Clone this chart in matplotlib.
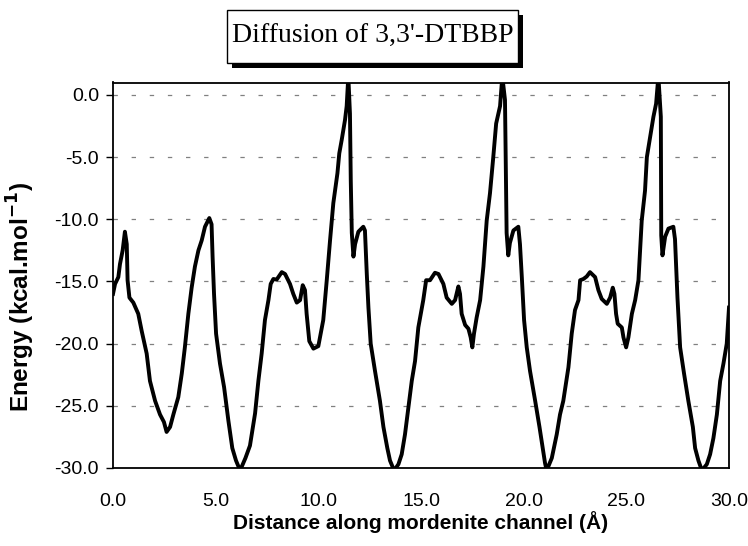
import matplotlib
matplotlib.use("Agg")
import matplotlib.pyplot as plt
from matplotlib.patches import Rectangle

distance = [0.0, 0.1, 0.26, 0.34, 0.47, 0.58, 0.67, 0.71, 0.8, 0.99, 1.23, 1.4, 1.64, 1.8, 2.05, 2.29, 2.48, 2.61,
            2.78, 2.94, 3.18, 3.35, 3.5, 3.67, 3.83, 3.99, 4.16, 4.32, 4.48, 4.69, 4.8, 4.85, 4.92, 5.02, 5.21, 5.41,
            5.62, 5.81, 5.99, 6.19, 6.45, 6.67, 6.92, 7.08, 7.24, 7.4, 7.57, 7.68, 7.81, 7.97, 8.22, 8.38, 8.62, 8.78,
            8.95, 9.11, 9.24, 9.35, 9.43, 9.56, 9.76, 10.0, 10.08, 10.24, 10.41, 10.57, 10.73, 10.93, 11.02, 11.14,
            11.3, 11.38, 11.46, 11.54, 11.58, 11.63, 11.71, 11.79, 11.95, 12.19, 12.27, 12.36, 12.44, 12.55, 12.76,
            13.0, 13.17, 13.36, 13.49, 13.69, 13.9, 14.06, 14.22, 14.39, 14.55, 14.71, 14.87, 15.11, 15.25, 15.44,
            15.68, 15.85, 16.09, 16.25, 16.5, 16.66, 16.82, 16.9, 16.98, 17.15, 17.31, 17.42, 17.5, 17.58, 17.71,
            17.88, 18.04, 18.2, 18.36, 18.52, 18.66, 18.85, 18.96, 19.09, 19.14, 19.17, 19.25, 19.33, 19.5, 19.74,
            19.82, 19.91, 20.02, 20.15, 20.31, 20.56, 20.77, 20.93, 21.04, 21.12, 21.37, 21.61, 21.77, 21.93, 22.18,
            22.34, 22.5, 22.67, 22.75, 22.91, 23.07, 23.23, 23.48, 23.64, 23.8, 24.05, 24.21, 24.34, 24.42, 24.5,
            24.58, 24.78, 24.86, 24.99, 25.1, 25.27, 25.43, 25.59, 25.75, 25.91, 26.0, 26.16, 26.32, 26.45, 26.56,
            26.68, 26.7, 26.76, 26.89, 27.05, 27.29, 27.37, 27.49, 27.62, 27.81, 28.02, 28.24, 28.35, 28.51, 28.68,
            28.92, 29.08, 29.24, 29.41, 29.57, 29.73, 29.89, 30.0]

energy = [-16.0, -15.2, -14.65, -13.6, -12.5, -11.0, -12.0, -14.9, -16.3, -16.7, -17.6, -19.0, -20.8, -23.0, -24.6,
          -25.7, -26.3, -27.1, -26.7, -25.7, -24.3, -22.4, -20.3, -17.6, -15.5, -13.8, -12.5, -11.7, -10.6, -9.9,
          -10.4, -13.0, -16.0, -19.2, -21.6, -23.5, -26.2, -28.4, -29.4, -30.2, -29.2, -28.2, -25.6, -23.0, -20.8,
          -18.1, -16.5, -15.2, -14.8, -14.85, -14.25, -14.4, -15.2, -16.0, -16.7, -16.5, -15.3, -15.7, -17.6, -19.8,
          -20.4, -20.2, -19.5, -18.1, -14.9, -11.7, -8.7, -6.3, -4.7, -3.6, -2.0, -0.9, 1.5, -1.5, -6.9, -11.1,
          -13.0, -12.0, -11.0, -10.6, -10.9, -14.4, -17.1, -20.0, -22.2, -24.6, -26.7, -28.4, -29.4, -30.2, -29.7,
          -28.9, -27.3, -25.1, -23.0, -21.4, -18.7, -16.5, -14.9, -14.9, -14.3, -14.4, -15.2, -16.3, -16.8, -16.5,
          -15.4, -16.0, -17.6, -18.5, -18.8, -19.5, -20.3, -19.2, -17.9, -16.5, -13.8, -10.1, -7.9, -5.0, -2.3,
          -0.9, 1.5, -0.4, -6.9, -11.1, -12.9, -11.9, -10.9, -10.6, -12.0, -14.65, -18.1, -20.3, -22.2, -24.6,
          -26.7, -28.4, -29.6, -30.2, -29.2, -27.3, -25.7, -24.6, -21.9, -19.2, -17.3, -16.5, -14.9, -14.8, -14.6,
          -14.25, -14.65, -15.7, -16.4, -16.8, -16.3, -15.5, -16.0, -17.6, -18.4, -18.7, -19.5, -20.3, -19.5,
          -17.6, -16.5, -14.9, -10.1, -7.7, -5.0, -3.4, -1.75, -0.7, 1.5, -1.75, -11.3, -12.9, -11.4, -10.75,
          -10.6, -11.6, -16.3, -20.3, -22.4, -24.6, -26.7, -28.4, -29.4, -30.2, -29.7, -28.9, -27.6, -25.7, -23.0,
          -21.6, -20.0, -17.1]

x_ticks = [0, 5, 10, 15, 20, 25, 30]
y_ticks = [0, -5, -10, -15, -20, -25, -30]
title = "Diffusion of 3,3'-DTBBP"

W, H = 748, 546
fig = plt.figure(figsize=(W / 100, H / 100), dpi=100)
ax = fig.add_axes([113 / W, 1 - 468 / H, (729 - 113) / W, (468 - 82.5) / H])

ax.plot(distance, energy, color="black", lw=2.8, solid_joinstyle="round")
ax.set_xlim(0, 30)
ax.set_ylim(-30, 1.0)

ax.set_xticks(x_ticks)
ax.set_xticklabels([f"{v:.1f}" for v in x_ticks])
ax.set_yticks(y_ticks)
ax.set_yticklabels([f"{v:.1f}" for v in y_ticks])

for yv in y_ticks[:-1]:
    ax.axhline(yv, color="#808080", lw=0.9, linestyle=(0, (3.5, 11)), zorder=0)

for s in ax.spines.values():
    s.set_linewidth(1.3)
    s.set_color("black")

ax.tick_params(axis="y", direction="out", length=5, width=1.0, pad=5,
               labelsize=14, colors="black")
ax.tick_params(axis="x", length=0, pad=18, labelsize=14)
for lab in ax.get_xticklabels() + ax.get_yticklabels():
    lab.set_fontfamily("Liberation Sans")

ax.set_xlabel("Distance along mordenite channel (Å)", fontsize=15, fontweight="bold",
              family="Liberation Sans", labelpad=1)
ax.set_ylabel(r"Energy (kcal.mol$^{\mathbf{-1}}$)", fontsize=17.5, fontweight="bold",
              family="Liberation Sans")
ax.yaxis.set_label_coords((37 - 113) / 616, (468 - 297) / 385.5)

# title box with shadow (pixel coords converted to figure fractions)
bx0, bx1, by0, by1 = 227, 518, 10, 63
off = 5
fig.patches.append(Rectangle(((bx0 + off) / W, 1 - (by1 + off) / H), (bx1 - bx0) / W, (by1 - by0) / H,
                             transform=fig.transFigure, facecolor="black", edgecolor="black", lw=0))
fig.patches.append(Rectangle((bx0 / W, 1 - by1 / H), (bx1 - bx0) / W, (by1 - by0) / H,
                             transform=fig.transFigure, facecolor="white", edgecolor="black", lw=1.0))
fig.text((bx0 + bx1) / 2 / W, 1 - (by0 + by1) / 2 / H, title, ha="center", va="center",
         family="Liberation Serif", fontsize=20)

fig.savefig("out.png", dpi=100)
